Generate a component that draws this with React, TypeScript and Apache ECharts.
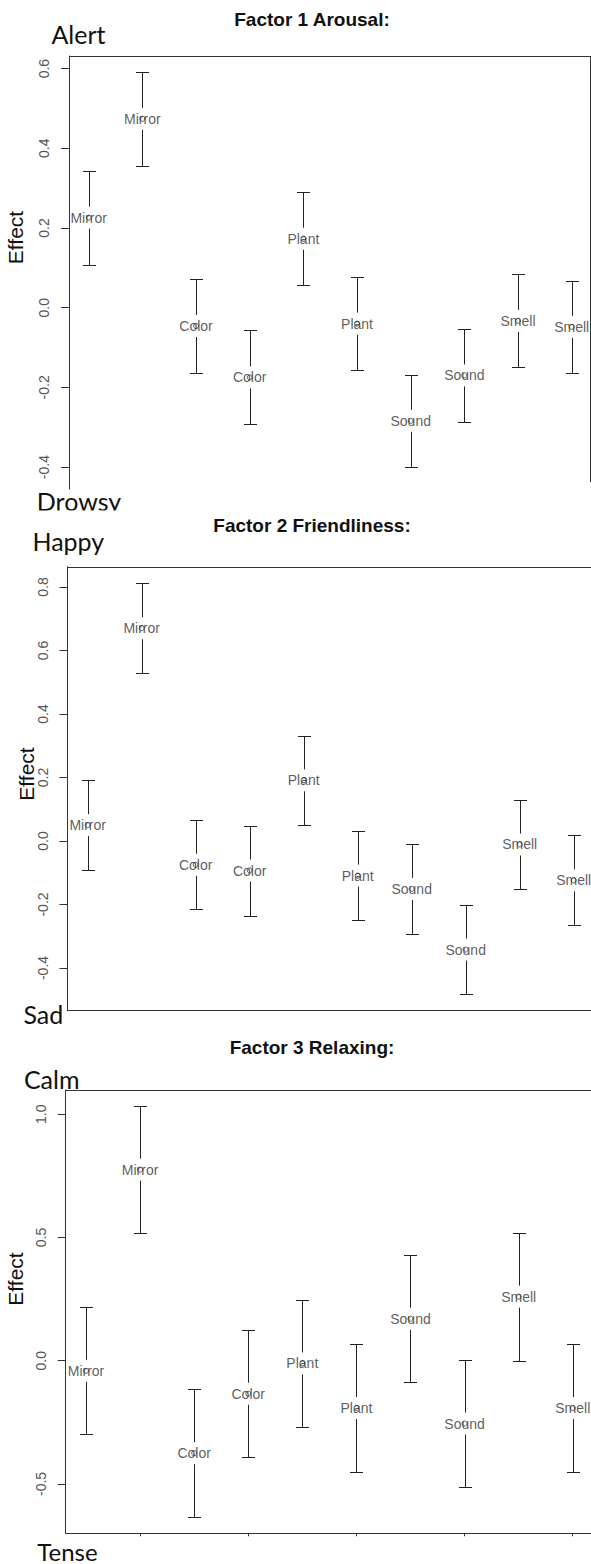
import React, { useEffect, useRef } from "react";
import * as echarts from "echarts";

const categories = ["Mirror", "Mirror", "Color", "Color", "Plant", "Plant", "Sound", "Sound", "Smell", "Smell"];
const positions = [1, 2, 3, 4, 5, 6, 7, 8, 9, 10];

const arousalMean = [0.226, 0.474, -0.046, -0.175, 0.173, -0.04, -0.284, -0.17, -0.033, -0.048];
const arousalLower = [0.108, 0.356, -0.164, -0.293, 0.057, -0.156, -0.4, -0.286, -0.15, -0.164];
const arousalUpper = [0.344, 0.592, 0.072, -0.057, 0.29, 0.077, -0.168, -0.053, 0.084, 0.068];
const arousalTicks = [0.6, 0.4, 0.2, 0.0, -0.2, -0.4];

const friendMean = [0.05, 0.67, -0.075, -0.093, 0.191, -0.109, -0.151, -0.342, -0.011, -0.124];
const friendLower = [-0.091, 0.528, -0.215, -0.235, 0.05, -0.249, -0.292, -0.483, -0.152, -0.266];
const friendUpper = [0.192, 0.812, 0.066, 0.048, 0.332, 0.031, -0.01, -0.202, 0.129, 0.018];
const friendTicks = [0.8, 0.6, 0.4, 0.2, 0.0, -0.2, -0.4];

const relaxMean = [-0.041, 0.775, -0.375, -0.134, -0.011, -0.192, 0.17, -0.255, 0.26, -0.192];
const relaxLower = [-0.299, 0.517, -0.635, -0.392, -0.269, -0.45, -0.088, -0.514, 0.0, -0.45];
const relaxUpper = [0.217, 1.033, -0.115, 0.125, 0.246, 0.066, 0.429, 0.003, 0.519, 0.066];
const relaxTicks = [1.0, 0.5, 0.0, -0.5];
const relaxXTicks = [2, 4, 6, 8, 10];

const titles = ["Factor 1 Arousal:", "Factor 2 Friendliness:", "Factor 3 Relaxing:"];

const panels = [
  { left: 69, top: 56, width: 521.7, height: 433, xMin: 0.633, xMax: 10.354, yMin: -0.455, yMax: 0.6316,
    mean: arousalMean, lower: arousalLower, upper: arousalUpper, ticks: arousalTicks, xTicks: null as number[] | null, bottomLine: false },
  { left: 67.5, top: 566.7, width: 525.6, height: 444, xMin: 0.626, xMax: 10.36, yMin: -0.5345, yMax: 0.8639,
    mean: friendMean, lower: friendLower, upper: friendUpper, ticks: friendTicks, xTicks: null as number[] | null, bottomLine: true },
  { left: 65.7, top: 1090, width: 526.5, height: 443.3, xMin: 0.625, xMax: 10.36, yMin: -0.7002, yMax: 1.0982,
    mean: relaxMean, lower: relaxLower, upper: relaxUpper, ticks: relaxTicks, xTicks: relaxXTicks, bottomLine: true },
];

const AX = "#333";
const TXT = "#555";
const ARIAL = "'Liberation Sans', Arial, sans-serif";
const CALIBRI = "Lato, 'Open Sans', sans-serif";

export default function App() {
  const ref = useRef<HTMLDivElement>(null);
  useEffect(() => {
    if (!ref.current) return;
    const chart = echarts.init(ref.current, null, { renderer: "svg" });

    const grid: any[] = [];
    const xAxis: any[] = [];
    const yAxis: any[] = [];
    const series: any[] = [];

    panels.forEach((p, i) => {
      grid.push({ left: p.left, top: p.top, width: p.width, height: p.height, outerBoundsMode: "none", containLabel: false });
      xAxis.push({
        type: "value", gridIndex: i, min: p.xMin, max: p.xMax,
        axisLine: { show: p.bottomLine, onZero: false, lineStyle: { color: AX, width: 1 } },
        axisTick: p.xTicks ? { show: true, length: 3, customValues: p.xTicks, lineStyle: { color: AX } } : { show: false },
        axisLabel: { show: false },
        splitLine: { show: false },
      });
      yAxis.push({
        type: "value", gridIndex: i, min: p.yMin, max: p.yMax,
        axisLine: { show: true, onZero: false, lineStyle: { color: AX, width: 1 } },
        axisTick: { show: true, length: 8, customValues: p.ticks, lineStyle: { color: AX } },
        axisLabel: {
          show: true, customValues: p.ticks, rotate: 90, margin: 18,
          formatter: (v: number) => v.toFixed(1),
          fontSize: 14, color: TXT, fontFamily: ARIAL,
        },
        splitLine: { show: false },
      });
      series.push({
        type: "custom", xAxisIndex: i, yAxisIndex: i, clip: false,
        data: positions.map((x, k) => [x, p.lower[k], p.upper[k], p.mean[k]]),
        encode: { x: 0, y: [1, 2, 3] },
        renderItem: (params: any, api: any) => {
          const x = api.value(0);
          const lo = api.coord([x, api.value(1)]);
          const hi = api.coord([x, api.value(2)]);
          const mid = api.coord([x, api.value(3)]);
          const cx = Math.round(lo[0]) + 0.5;
          const yl = Math.round(lo[1]) + 0.5;
          const yh = Math.round(hi[1]) + 0.5;
          const cap = 6.5;
          const gap = 11;
          const style = { stroke: "#222", lineWidth: 1 };
          return {
            type: "group",
            children: [
              { type: "line", shape: { x1: cx - cap, y1: yh, x2: cx + cap, y2: yh }, style },
              { type: "line", shape: { x1: cx - cap, y1: yl, x2: cx + cap, y2: yl }, style },
              { type: "line", shape: { x1: cx, y1: yh, x2: cx, y2: mid[1] - gap }, style },
              { type: "line", shape: { x1: cx, y1: mid[1] + gap, x2: cx, y2: yl }, style },
            ],
          };
        },
      });
      series.push({
        type: "scatter", xAxisIndex: i, yAxisIndex: i,
        symbol: "circle", symbolSize: 5,
        itemStyle: { color: "rgba(0,0,0,0)", borderColor: "#333", borderWidth: 1 },
        data: positions.map((x, k) => ({ value: [x, p.mean[k]], name: categories[k] })),
        label: { show: true, position: "inside", formatter: "{b}", color: "#333", fontSize: 14, fontFamily: ARIAL },
        emphasis: { disabled: true },
      });
    });

    const line = (x1: number, y1: number, x2: number, y2: number) => ({
      type: "line", shape: { x1, y1, x2, y2 }, style: { stroke: AX, lineWidth: 1 }, silent: true,
    });
    const text = (t: string, x: number, y: number, font: string, size: number, weight: string, color: string, rot = 0) => ({
      type: "text", x, y, rotation: rot, z: 10,
      style: { text: t, fontFamily: font, fontSize: size, lineHeight: size, fontWeight: weight, fill: color, align: "center", verticalAlign: "middle" },
    });

    const graphic: any[] = [
      line(69, 56.5, 591, 56.5),
      line(590.5, 56, 590.5, 482),
      line(67.5, 567.5, 591, 567.5),
      line(65.7, 1090.5, 591, 1090.5),
      text(titles[0], 312, 19, ARIAL, 19, "bold", "#111"),
      text(titles[1], 312, 525, ARIAL, 19, "bold", "#111"),
      text(titles[2], 312, 1047, ARIAL, 19, "bold", "#111"),
      text("Alert", 78.5, 34, CALIBRI, 25, "normal", "#111"),
      text("Drowsy", 79, 501, CALIBRI, 25, "normal", "#111"),
      { type: "rect", shape: { x: 30, y: 510.5, width: 100, height: 7 }, style: { fill: "#fff" }, z: 20 },
      text("Happy", 68.3, 541, CALIBRI, 25, "normal", "#111"),
      text("Sad", 43.3, 1014, CALIBRI, 25, "normal", "#111"),
      text("Calm", 51.7, 1079, CALIBRI, 25, "normal", "#111"),
      text("Tense", 67.5, 1551, CALIBRI, 24, "normal", "#111"),
      text("Effect", 15.5, 237.5, ARIAL, 21, "normal", "#111", Math.PI / 2),
      text("Effect", 26.5, 774, ARIAL, 21, "normal", "#111", Math.PI / 2),
      text("Effect", 15.5, 1279, ARIAL, 21, "normal", "#111", Math.PI / 2),
    ];

    chart.setOption({
      animation: false,
      backgroundColor: "#fff",
      grid, xAxis, yAxis, series, graphic,
    });
    return () => chart.dispose();
  }, []);

  return <div ref={ref} style={{ position: "absolute", left: 0, top: 0, width: 591, height: 1564 }} />;
}
